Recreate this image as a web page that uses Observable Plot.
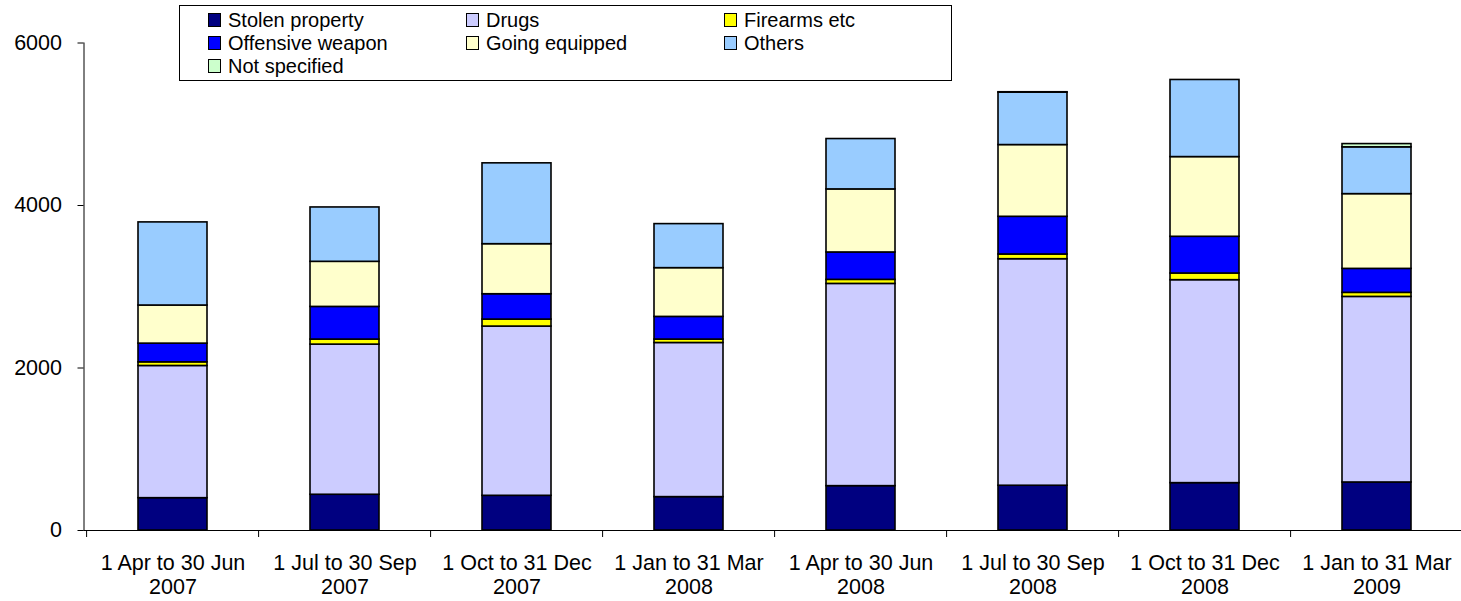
<!DOCTYPE html>
<html><head><meta charset="utf-8">
<script src="https://cdn.jsdelivr.net/npm/d3@7"></script>
<script src="https://cdn.jsdelivr.net/npm/@observablehq/plot@0.6"></script>
<style>
body{margin:0;background:#fff;font-family:"Liberation Sans",Arial,sans-serif;}
#wrap{position:relative;width:1461px;height:601px;overflow:hidden;}
#legend{position:absolute;left:179px;top:5px;width:773px;height:76px;border:1px solid #000;box-sizing:border-box;background:#fff;}
.item{position:absolute;font-size:20px;line-height:20px;color:#000;white-space:nowrap;display:flex;align-items:center;}
.sw{display:inline-block;width:11px;height:12px;border:1px solid #000;margin-right:7px;box-sizing:content-box;}
</style>
</head><body>
<div id="wrap"><div id="chart"></div><div id="legend"></div></div>
<script>
const quarters = [
  "1 Apr to 30 Jun\n2007", "1 Jul to 30 Sep\n2007", "1 Oct to 31 Dec\n2007", "1 Jan to 31 Mar\n2008",
  "1 Apr to 30 Jun\n2008", "1 Jul to 30 Sep\n2008", "1 Oct to 31 Dec\n2008", "1 Jan to 31 Mar\n2009"
];
const seriesNames = ["Stolen property", "Drugs", "Firearms etc", "Offensive weapon", "Going equipped", "Others", "Not specified"];
const seriesColors = ["#000080", "#CCCCFF", "#FFFF00", "#0000FF", "#FFFFCC", "#99CCFF", "#CCFFCC"];
const stolen       = [398, 440, 427, 411, 546, 551, 583, 591];
const drugs        = [1627, 1848, 2083, 1897, 2489, 2788, 2498, 2284];
const firearms     = [45, 62, 86, 42, 50, 58, 82, 50];
const offensive    = [230, 402, 312, 279, 337, 464, 452, 295];
const going        = [469, 555, 616, 600, 776, 883, 981, 920];
const others       = [1023, 669, 995, 542, 620, 645, 949, 576];
const notSpecified = [0, 0, 0, 0, 0, 5, 0, 40];
const yTicks = [0, 2000, 4000, 6000];

const seriesValues = [stolen, drugs, firearms, offensive, going, others, notSpecified];
const data = [];
seriesNames.forEach((s, si) => quarters.forEach((q, qi) => data.push({quarter: q, series: s, value: seriesValues[si][qi]})));

const W = 1461, H = 601, mL = 83.5, mR = -5, mT = 42.5, mB = 71;
const step = (W - mR - mL) / quarters.length;
const font = "Liberation Sans, Arial, sans-serif";

const chart = Plot.plot({
  width: W, height: H,
  marginLeft: mL, marginRight: mR, marginTop: mT, marginBottom: mB,
  style: {fontFamily: font, fontSize: "21.5px", color: "#000", background: "#fff", overflow: "visible"},
  x: {domain: quarters, paddingInner: 0.6, paddingOuter: 0.3, axis: null, label: null},
  y: {domain: [0, 6000], axis: null, label: null},
  color: {domain: seriesNames, range: seriesColors},
  marks: [
    Plot.barY(data, {x: "quarter", y: "value", fill: "series", stroke: "#000", strokeWidth: 1.6}),
    Plot.ruleY([0], {stroke: "#000", strokeWidth: 1}),
    Plot.frame({anchor: "left", stroke: "#000", strokeWidth: 1}),
    Plot.axisY({ticks: yTicks, tickSize: 6, tickPadding: 16, tickFormat: d => String(d), fontSize: 21.5, stroke: "#000", strokeOpacity: 1}),
    Plot.axisX({ticks: quarters, tickSize: 7, tickFormat: () => "", dx: -step / 2, stroke: "#000", strokeOpacity: 1}),
    Plot.axisX({ticks: quarters, tickSize: 0, tickPadding: 23, fontSize: 21.5, lineHeight: 1.1})
  ]
});
document.getElementById("chart").appendChild(chart);

const legend = document.getElementById("legend");
const colLeft = [28, 286, 544];
const rowCenter = [14, 37, 60];
seriesNames.forEach((s, i) => {
  const el = document.createElement("div");
  el.className = "item";
  el.style.left = colLeft[i % 3] + "px";
  el.style.top = (rowCenter[Math.floor(i / 3)] - 10) + "px";
  el.innerHTML = `<span class="sw" style="background:${seriesColors[i]}"></span>${s}`;
  legend.appendChild(el);
});
</script>
</body></html>
